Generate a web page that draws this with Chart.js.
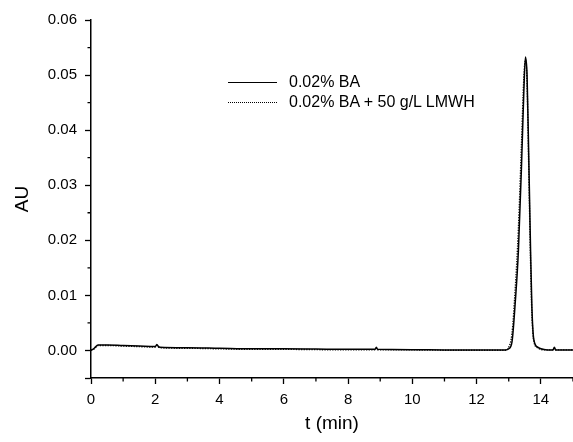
<!DOCTYPE html>
<html>
<head>
<meta charset="utf-8">
<script src="https://cdn.jsdelivr.net/npm/chart.js@4/dist/chart.umd.min.js"></script>
<style>
  html, body { margin: 0; padding: 0; background: #fff; overflow: hidden; }
  #wrap { position: relative; width: 573px; height: 442px; }
  #legend { position: absolute; left: 228px; top: 72px; font-family: 'Liberation Sans', Arial, sans-serif; font-size: 16px; color: #000; }
  .row { display: flex; align-items: center; height: 20px; white-space: nowrap; }
  .sample { display: inline-block; width: 49px; height: 0; margin-right: 12px; }
  .solid { border-top: 1.3px solid #000; }
  .dotted { border-top: 1.3px dotted #000; }
</style>
</head>
<body>
<div id="wrap">
  <canvas id="c" width="573" height="442"></canvas>
  <div id="legend">
    <div class="row"><span class="sample solid"></span><span>0.02% BA</span></div>
    <div class="row"><span class="sample dotted"></span><span>0.02% BA + 50 g/L LMWH</span></div>
  </div>
</div>
<script>
const seriesNames = ['0.02% BA', '0.02% BA + 50 g/L LMWH'];
const timeMin = [0, 0.1, 0.22, 0.5, 1, 1.5, 2, 2.05, 2.1, 2.15,
  3, 4, 5, 6, 7, 8,
  8.84, 8.88, 8.92,
  10, 11, 12, 12.9,
  13.0, 13.1, 13.2, 13.3, 13.4, 13.47, 13.52, 13.57, 13.62, 13.68, 13.72, 13.78,
  13.9, 14.0, 14.2,
  14.38, 14.42, 14.46, 15];
const auBA = [0, 0.0004, 0.001, 0.001, 0.0009, 0.0008, 0.0007, 0.0011, 0.0007, 0.0006,
  0.0005, 0.0004, 0.0003, 0.0003, 0.00025, 0.0002,
  0.0002, 0.0006, 0.0002,
  0.00015, 0.0001, 0.0001, 0.0001,
  0.0003, 0.0015, 0.0085, 0.018, 0.034, 0.047, 0.0533, 0.050, 0.036, 0.018, 0.008, 0.002,
  0.0006, 0.0003, 0.0001,
  0.0001, 0.0006, 0.0001, 0.0001];
const auBALMWH = [0, 0.0003, 0.0009, 0.0009, 0.0008, 0.0007, 0.0006, 0.0009, 0.0006, 0.0005,
  0.0004, 0.0003, 0.0002, 0.0002, 0.00015, 0.0001,
  0.0001, 0.0004, 0.0001,
  0.0001, 0.00005, 0.00005, 0.00005,
  0.0006, 0.003, 0.011, 0.022, 0.038, 0.0495, 0.0528, 0.0485, 0.034, 0.016, 0.0068, 0.0017,
  0.0005, 0.0002, 0.0001,
  0.0001, 0.0004, 0.0001, 0.0001];
const xTickLabels = ['0', '2', '4', '6', '8', '10', '12', '14'];
const yTickLabels = ['0.00', '0.01', '0.02', '0.03', '0.04', '0.05', '0.06'];

const FONT = "'Liberation Sans', Arial, sans-serif";
const toPts = (ys) => timeMin.map((t, i) => ({ x: t, y: ys[i] }));
const isMajorY = (v) => Math.abs(v * 100 - Math.round(v * 100)) < 1e-6;
const isMajorX = (v) => Math.abs(v / 2 - Math.round(v / 2)) < 1e-6;

const minorTicks = {
  id: 'minorTicks',
  afterDraw(chart) {
    const { ctx, chartArea, scales } = chart;
    ctx.save();
    ctx.strokeStyle = '#000';
    ctx.lineWidth = 1.3;
    ctx.beginPath();
    scales.x.ticks.forEach(t => {
      if (!isMajorX(t.value)) {
        const px = scales.x.getPixelForValue(t.value);
        ctx.moveTo(px, chartArea.bottom);
        ctx.lineTo(px, chartArea.bottom + 3.5);
      }
    });
    scales.y.ticks.forEach(t => {
      if (!isMajorY(t.value) && t.value > 0) {
        const py = scales.y.getPixelForValue(t.value);
        ctx.moveTo(chartArea.left, py);
        ctx.lineTo(chartArea.left - 3.5, py);
      }
    });
    ctx.stroke();
    ctx.restore();
  }
};

new Chart(document.getElementById('c'), {
  type: 'line',
  data: {
    datasets: [
      { label: seriesNames[0], data: toPts(auBA), borderColor: '#000', borderWidth: 1.5, pointRadius: 0, cubicInterpolationMode: 'monotone', fill: false },
      { label: seriesNames[1], data: toPts(auBALMWH), borderColor: '#111', borderWidth: 1.4, borderDash: [1.3, 1.3], pointRadius: 0, cubicInterpolationMode: 'monotone', fill: false }
    ]
  },
  options: {
    responsive: false,
    devicePixelRatio: 1,
    animation: false,
    layout: { padding: { top: 20, right: 0, left: 0, bottom: 0 } },
    plugins: { legend: { display: false }, tooltip: { enabled: false } },
    scales: {
      x: {
        type: 'linear', min: 0, max: 15,
        afterFit: (s) => { s.height = 64; s.paddingRight = 0; s.paddingLeft = 0; },
        ticks: {
          stepSize: 1, color: '#000', padding: 7, maxRotation: 0, autoSkip: false,
          font: { family: FONT, size: 15 },
          callback: (v) => isMajorX(v) ? (xTickLabels[Math.round(v / 2)] ?? '') : ''
        },
        grid: {
          drawOnChartArea: false, drawTicks: true, tickLength: 6, tickWidth: 1.3,
          tickColor: (c) => (c.tick && isMajorX(c.tick.value)) ? '#000' : 'rgba(0,0,0,0)'
        },
        border: { display: true, color: '#000', width: 1.5 },
        title: { display: true, text: 't (min)', color: '#000', font: { family: FONT, size: 19 }, padding: { top: 0, bottom: 7 } }
      },
      y: {
        type: 'linear', min: -0.005, max: 0.06,
        afterFit: (s) => { s.width = 91; s.paddingTop = 0; s.paddingBottom = 0; },
        ticks: {
          stepSize: 0.005, color: '#000', padding: 8, autoSkip: false,
          font: { family: FONT, size: 15 },
          callback: (v) => (isMajorY(v) && v >= -1e-9) ? (yTickLabels[Math.round(v * 100)] ?? '') : ''
        },
        grid: {
          drawOnChartArea: false, drawTicks: true, tickLength: 6, tickWidth: 1.3,
          tickColor: (c) => (c.tick && (isMajorY(c.tick.value) || c.tick.value < 0)) ? '#000' : 'rgba(0,0,0,0)'
        },
        border: { display: true, color: '#000', width: 1.5 },
        title: { display: true, text: 'AU', color: '#000', font: { family: FONT, size: 19 }, padding: { top: 11, bottom: 0 } }
      }
    }
  },
  plugins: [minorTicks]
});
</script>
</body>
</html>
